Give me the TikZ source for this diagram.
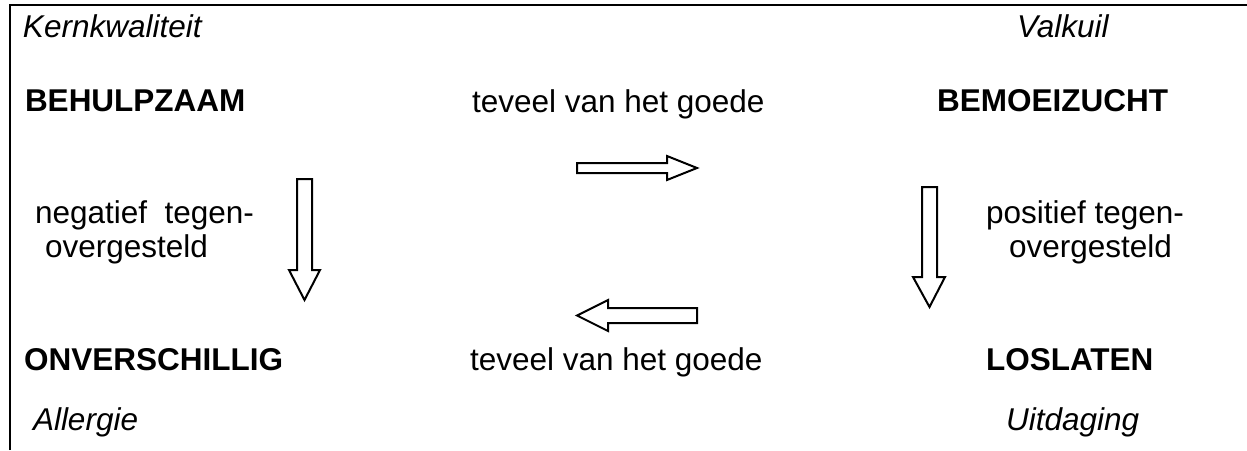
\documentclass[tikz,border=0pt]{standalone}
\usepackage{fontspec}
\setmainfont{Liberation Sans}
\begin{document}
\begin{tikzpicture}[x=1pt,y=-1pt,
  lbl/.style={anchor=base west,inner sep=0pt,outer sep=0pt,font=\fontsize{31.5}{33}\selectfont},
  role/.style={lbl,font=\fontsize{31.5}{33}\selectfont\itshape},
  quality/.style={lbl,font=\fontsize{31.5}{33}\selectfont\bfseries},
  blockarrow/.style={draw=black,fill=white,line width=2pt,line join=miter}]
\useasboundingbox (0,0) rectangle (1247,450);

% frame: top and left edges only
\draw[line width=2.5pt] (10,450) -- (10,5) -- (1247,5);

% corner roles
\node[role] (kern) at (23,37) {Kernkwaliteit};
\node[role] (valk) at (1017,37) {Valkuil};
\node[role] (allg) at (33,430) {Allergie};
\node[role] (uitd) at (1006,430) {Uitdaging};

% qualities
\node[quality] (behulp) at (25,111) {BEHULPZAAM};
\node[quality] (bemoei) at (937,111) {BEMOEIZUCHT};
\node[quality] (onvers) at (24,370) {ONVERSCHILLIG};
\node[quality] (loslat) at (986,370) {LOSLATEN};

% relations
\node[lbl] (tvtop) at (472,112) {teveel van het goede};
\node[lbl] (tvbot) at (470,370) {teveel van het goede};
\node[lbl] (neg1) at (35,223) {negatief\ \ tegen-};
\node[lbl] (neg2) at (45,257) {overgesteld};
\node[lbl] (pos1) at (986,223) {positief tegen-};
\node[lbl] (pos2) at (1009,257) {overgesteld};

% block arrows
\draw[blockarrow] (577,163) -- (667,163) -- (667,156) -- (697,168) -- (667,180)
  -- (667,173) -- (577,173) -- cycle;
\draw[blockarrow] (577,315.5) -- (608,300) -- (608,308) -- (697,308) -- (697,323)
  -- (608,323) -- (608,331) -- cycle;
\draw[blockarrow] (297,179) -- (312,179) -- (312,270) -- (320,270) -- (304.5,300)
  -- (289,270) -- (297,270) -- cycle;
\draw[blockarrow] (922,187) -- (937,187) -- (937,277) -- (945,277) -- (929.5,307)
  -- (913,277) -- (922,277) -- cycle;
\end{tikzpicture}
\end{document}
